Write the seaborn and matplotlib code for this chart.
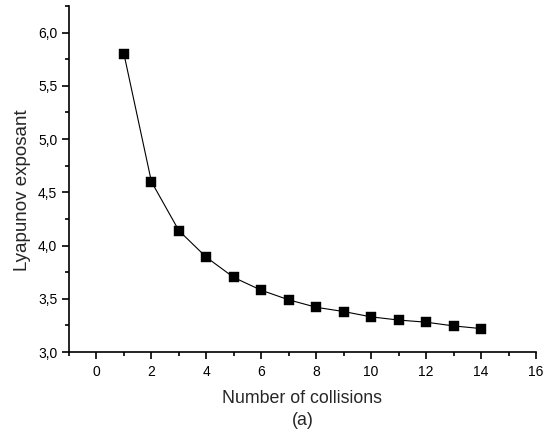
import numpy as np
import pandas as pd
import matplotlib
matplotlib.use("Agg")
import matplotlib.pyplot as plt
from matplotlib.ticker import MultipleLocator, FuncFormatter
import seaborn as sns

collisions = [1, 2, 3, 4, 5, 6, 7, 8, 9, 10, 11, 12, 13, 14]
lyapunov = [5.80, 4.60, 4.14, 3.89, 3.70, 3.58, 3.49, 3.42, 3.38, 3.33, 3.30, 3.28, 3.245, 3.22]
x_label = "Number of collisions\n(a)"
y_label = "Lyapunov exposant"

sns.set_style("ticks")
plt.rcParams['font.family'] = ['Liberation Sans', 'DejaVu Sans']

df = pd.DataFrame({"x": collisions, "y": lyapunov})

fig = plt.figure(figsize=(5.45, 4.32), dpi=100)
ax = fig.add_axes([69/545, 1 - 352/432, (536 - 69)/545, (352 - 6)/432])

sns.lineplot(data=df, x="x", y="y", ax=ax, color="black", linewidth=0.8,
             marker="s", markersize=7.2, markeredgecolor="black",
             markerfacecolor="black", markeredgewidth=0.3)

ax.set_xlim(-1, 16)
ax.set_ylim(3.0, 6.25)
ax.xaxis.set_major_locator(MultipleLocator(2))
ax.xaxis.set_minor_locator(MultipleLocator(1))
ax.yaxis.set_major_locator(MultipleLocator(0.5))
ax.yaxis.set_minor_locator(MultipleLocator(0.25))
ax.yaxis.set_major_formatter(FuncFormatter(lambda v, p: f"{v:.1f}".replace(".", ",")))
ax.xaxis.set_major_formatter(FuncFormatter(lambda v, p: f"{v:.0f}"))

for s in ["top", "right"]:
    ax.spines[s].set_visible(False)
for s in ["left", "bottom"]:
    ax.spines[s].set_linewidth(1.2)
    ax.spines[s].set_color("black")

ax.tick_params(axis="both", which="major", direction="out", length=5, width=1.2,
               labelsize=10, colors="black")
ax.tick_params(axis="x", which="major", pad=4.5)
ax.tick_params(axis="y", which="major", pad=3.5)
ax.tick_params(axis="both", which="minor", direction="out", length=3, width=1.2,
               colors="black")

ax.set_xlabel(x_label, fontsize=12.75, labelpad=7.5, linespacing=1.4)
ax.set_ylabel(y_label, fontsize=13.5)
ax.yaxis.set_label_coords(-0.081, 0.468)

fig.savefig("out.png", dpi=100)
